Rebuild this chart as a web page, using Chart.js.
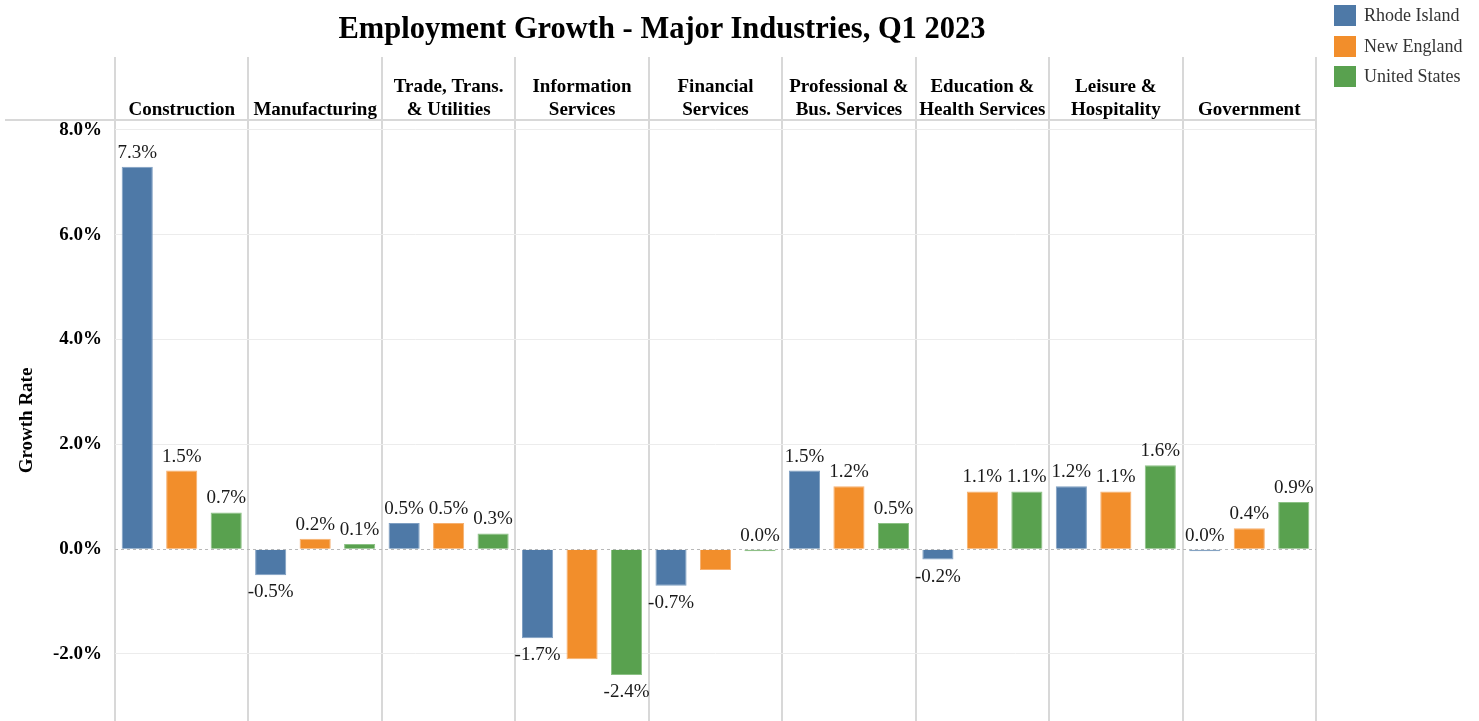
<!DOCTYPE html>
<html>
<head>
<meta charset="utf-8">
<title>Employment Growth - Major Industries, Q1 2023</title>
<script src="https://cdn.jsdelivr.net/npm/chart.js@4.4.0/dist/chart.umd.min.js"></script>
<style>
  body { margin: 0; background: #fff; font-family: 'Liberation Serif', 'Times New Roman', serif; }
  #wrap { position: relative; width: 1479px; height: 721px; }
  #title { position: absolute; left: 0; top: 13px; width: 1324px; text-align: center;
           font-weight: bold; font-size: 30.5px; line-height: 31px; color: #000; }
  #legend { position: absolute; left: 1334px; top: 5px; }
  .item { display: flex; align-items: center; height: 21px; margin-bottom: 9.5px; font-size: 18px; color: #333; }
  .swatch { width: 22px; height: 21px; margin-right: 8px; }
</style>
</head>
<body>
<div id="wrap">
  <canvas id="growthChart"></canvas>
  <div id="title">Employment Growth - Major Industries, Q1 2023</div>
  <div id="legend"></div>
</div>
<script>
const industries = [
  ['Construction'], ['Manufacturing'], ['Trade, Trans.', '& Utilities'],
  ['Information', 'Services'], ['Financial', 'Services'], ['Professional &', 'Bus. Services'],
  ['Education &', 'Health Services'], ['Leisure &', 'Hospitality'], ['Government']
];
const rhodeIsland  = [7.3, -0.5, 0.5, -1.7, -0.7, 1.5, -0.2, 1.2, -0.04];
const newEngland   = [1.5, 0.2, 0.5, -2.1, -0.4, 1.2, 1.1, 1.1, 0.4];
const unitedStates = [0.7, 0.1, 0.3, -2.4, -0.04, 0.5, 1.1, 1.6, 0.9];
const yTicks = [-2, 0, 2, 4, 6, 8];
// [dataset, category] pairs whose value label is left off
const unlabeled = [[1, 3], [1, 4]];

const pct = v => (Math.round(v * 10) / 10).toFixed(1) + '%';

Chart.defaults.font.family = "'Liberation Serif', 'Times New Roman', serif";

// dashed zero line and the header rule left of the plot
const frame = {
  id: 'frame',
  beforeDatasetsDraw(chart) {
    const { ctx, chartArea, scales: { y } } = chart;
    const y0 = Math.round(y.getPixelForValue(0)) + 0.5;
    ctx.save();
    ctx.lineWidth = 1;
    ctx.strokeStyle = '#b8b8b8';
    ctx.setLineDash([3, 3]);
    ctx.beginPath();
    ctx.moveTo(chartArea.left, y0);
    ctx.lineTo(chartArea.right, y0);
    ctx.stroke();
    ctx.setLineDash([]);
    ctx.lineWidth = 2;
    ctx.strokeStyle = '#d8d8d8';
    ctx.beginPath();
    ctx.moveTo(5, chartArea.top);
    ctx.lineTo(chartArea.left, chartArea.top);
    ctx.stroke();
    ctx.restore();
  }
};

const valueLabels = {
  id: 'valueLabels',
  afterDatasetsDraw(chart) {
    const { ctx } = chart;
    ctx.save();
    ctx.font = "19px 'Liberation Serif', serif";
    ctx.fillStyle = '#1a1a1a';
    ctx.textAlign = 'center';
    ctx.textBaseline = 'alphabetic';
    chart.data.datasets.forEach((ds, di) => {
      chart.getDatasetMeta(di).data.forEach((bar, i) => {
        if (unlabeled.some(([d, c]) => d === di && c === i)) return;
        const v = ds.data[i];
        if (Math.round(v * 10) < 0) {
          ctx.fillText(pct(v), bar.x, Math.max(bar.y, bar.base) + 22);
        } else {
          ctx.fillText(pct(v), bar.x, Math.min(bar.y, bar.base) - 9);
        }
      });
    });
    ctx.restore();
  }
};

const chart = new Chart(document.getElementById('growthChart'), {
  type: 'bar',
  data: {
    labels: industries,
    datasets: [
      { label: 'Rhode Island', data: rhodeIsland, backgroundColor: '#4e79a7', borderColor: '#7f9fc2' },
      { label: 'New England', data: newEngland, backgroundColor: '#f28e2b', borderColor: '#f6b070' },
      { label: 'United States', data: unitedStates, backgroundColor: '#59a14f', borderColor: '#8cc185' }
    ]
  },
  options: {
    responsive: true,
    maintainAspectRatio: false,
    animation: false,
    layout: { padding: { top: 57, right: 163, left: 0, bottom: 0 } },
    datasets: { bar: { categoryPercentage: 1, barPercentage: 0.7, borderWidth: 1 } },
    plugins: { legend: { display: false }, tooltip: { enabled: false } },
    scales: {
      x: {
        position: 'top',
        afterFit: s => { s.height = 63; s.paddingLeft = 0; s.paddingRight = 0; },
        grid: { offset: true, color: '#d8d8d8', lineWidth: 2, tickLength: 63 },
        border: { display: true, color: '#d8d8d8', width: 2 },
        ticks: {
          autoSkip: false, maxRotation: 0, minRotation: 0, padding: -64,
          color: '#000', font: { size: 19, weight: 'bold', lineHeight: 1.2 }
        }
      },
      y: {
        min: -3.28,
        max: 8.19,
        afterFit: s => { s.width = 115; s.paddingTop = 0; s.paddingBottom = 0; },
        afterBuildTicks: s => { s.ticks = yTicks.map(v => ({ value: v })); },
        grid: {
          drawTicks: false,
          color: c => (c.tick && c.tick.value === 0) ? 'rgba(0,0,0,0)' : '#ececec'
        },
        border: { display: false },
        ticks: {
          padding: 13, color: '#000', font: { size: 19, weight: 'bold' },
          callback: v => v.toFixed(1) + '%'
        },
        title: {
          display: true, text: 'Growth Rate', color: '#000',
          font: { size: 19, weight: 'bold' }, padding: { top: 16 }
        }
      }
    }
  },
  plugins: [frame, valueLabels]
});

// legend built from the datasets
const legend = document.getElementById('legend');
chart.data.datasets.forEach(ds => {
  const item = document.createElement('div');
  item.className = 'item';
  const sw = document.createElement('span');
  sw.className = 'swatch';
  sw.style.background = ds.backgroundColor;
  item.appendChild(sw);
  item.appendChild(document.createTextNode(ds.label));
  legend.appendChild(item);
});
</script>
</body>
</html>
